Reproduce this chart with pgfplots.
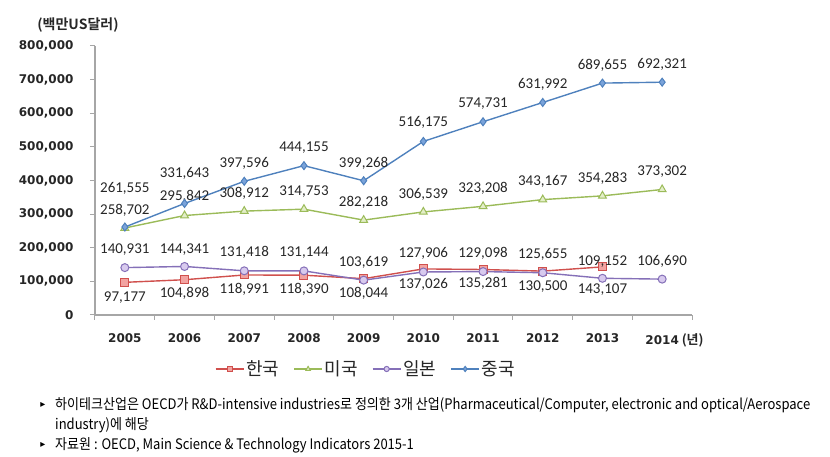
\documentclass[border=0pt]{standalone}
\usepackage{fontspec}
\usepackage{pgfplots}
\usepackage{pgfplotstable}
\usepackage{graphicx}
\pgfplotsset{compat=1.18}
\setmainfont{Carlito}
\newfontfamily\kr{Noto Sans CJK KR}
\newfontfamily\krb{Noto Sans CJK KR Bold}
\newfontfamily\dvs{DejaVu Sans}
\newfontfamily\dvsb{DejaVu Sans Bold}
\definecolor{kline}{HTML}{D0504D}
\definecolor{kfill}{HTML}{F2A3A1}
\definecolor{uline}{HTML}{9BBB59}
\definecolor{ufill}{HTML}{E3EEC8}
\definecolor{jline}{HTML}{8570B8}
\definecolor{jfill}{HTML}{D8CAEE}
\definecolor{cline}{HTML}{4F81BD}
\definecolor{cfill}{HTML}{7AA3DA}
\definecolor{axgray}{HTML}{A6A6A6}

\pgfplotstableread{
x y dy lab
0 97177 -15 97,177
1 104898 -14 104,898
2 118991 -14 118,991
3 118390 -14 118,390
4 108044 -15 108,044
5 137026 -15 137,026
6 135281 -14 135,281
7 130500 -15 130,500
8 143107 -23 143,107
}\korea
\pgfplotstableread{
x y dy lab
0 258702 18 258,702
1 295842 19 295,842
2 308912 18 308,912
3 314753 18 314,753
4 282218 18 282,218
5 306539 18 306,539
6 323208 18 323,208
7 343167 18 343,167
8 354283 18 354,283
9 373302 18 373,302
}\usa
\pgfplotstableread{
x y dy lab
0 140931 18 140,931
1 144341 17 144,341
2 131418 18 131,418
3 131144 18 131,144
4 103619 18 103,619
5 127906 19 127,906
6 129098 18 129,098
7 125655 18 125,655
8 109152 17 109,152
9 106690 18 106,690
}\japan
\pgfplotstableread{
x y dy lab
0 261555 39 261,555
1 331643 30 331,643
2 397596 18 397,596
3 444155 18 444,155
4 399268 17 399,268
5 516175 19 516,175
6 574731 18 574,731
7 631992 18 631,992
8 689655 18 689,655
9 692321 18 692,321
}\china

\newsavebox\fnbox
\newcommand\fnfont{\kr\fontsize{14.5}{14.5}\selectfont}
\newcommand\lgfont{\kr\fontsize{18}{18}\selectfont}

\begin{document}
\sbox\fnbox{\fnfont 하이테크산업은 OECD가 R\&D-intensive industries로 정의한 3개 산업(Pharmaceutical/Computer, electronic and optical/Aerospace}%
\pgfmathsetmacro\fnr{755/\the\wd\fnbox}%
\begin{tikzpicture}[x=1pt,y=1pt]
\useasboundingbox (0,0) rectangle (830,457);
\begin{axis}[
  at={(95pt,142pt)}, anchor=south west,
  scale only axis, width=597pt, height=269pt,
  xmin=-0.5, xmax=9.5, ymin=0, ymax=800000,
  axis x line*=bottom, axis y line*=left,
  axis line style={draw=axgray, line width=1.2pt, -},
  tick align=outside, major tick length=5pt,
  tick style={draw=axgray, line width=1pt},
  xtick={-0.5,0.5,...,9.5},
  xticklabels={2005,2006,2007,2008,2009,2010,2011,2012,2013,{2014\rlap{\krb\fontsize{13}{13}\selectfont\ (년)}},{}},
  xticklabel style={xshift=29.85pt, font=\dvsb\fontsize{12}{12}\selectfont, yshift=-10pt, text=black!85},
  ytick={0,100000,...,800000},
  scaled y ticks=false,
  yticklabel style={font=\dvsb\fontsize{12}{12}\selectfont, xshift=-13pt, text=black!85,
    /pgf/number format/fixed, /pgf/number format/precision=0,
    /pgf/number format/1000 sep={,}, /pgf/number format/assume math mode=true},
  clip=false,
  nodes near coords={\pgfplotspointmeta},
  point meta=explicit symbolic,
  visualization depends on={\thisrow{dy} \as \dy},
  every node near coord/.append style={font=\fontsize{15}{15}\selectfont, anchor=center, yshift=\dy pt, text=black!85},
  legend style={at={(0.453,-0.2007)}, anchor=center, draw=none, fill=none,
    legend columns=4, font=\lgfont, nodes={inner sep=1pt}, text=black!85,
    /tikz/every odd column/.append style={column sep=1pt},
    /tikz/every even column/.append style={column sep=13pt},
    legend cell align=left},
  legend image code/.code={\draw[mark size=2.6pt, mark repeat=2, mark phase=2] plot coordinates {(0pt,0pt) (14pt,0pt) (28pt,0pt)};},
]
\addplot[kline, line width=1.4pt, mark=square*, mark size=4pt, mark options={fill=kfill, draw=kline, line width=1pt}] table[x=x,y=y,meta=lab] {\korea};
\addlegendentry{한국}
\addplot[uline, line width=1.4pt, mark=triangle*, mark size=4.5pt, mark options={fill=ufill, draw=uline, line width=1pt}] table[x=x,y=y,meta=lab] {\usa};
\addlegendentry{미국}
\addplot[jline, line width=1.4pt, mark=*, mark size=4pt, mark options={fill=jfill, draw=jline, line width=1pt}] table[x=x,y=y,meta=lab] {\japan};
\addlegendentry{일본}
\addplot[cline, line width=1.4pt, mark=diamond*, mark size=4pt, mark options={fill=cfill, draw=cline, line width=1pt}] table[x=x,y=y,meta=lab] {\china};
\addlegendentry{중국}
\end{axis}
\node[anchor=center, inner sep=0pt, font=\krb\fontsize{14}{14}\selectfont, text=black!85] at (78,432) {(백만US달러)};
\node[anchor=base west, inner sep=0pt] at (55,47) {\resizebox{755pt}{\height}{\usebox\fnbox}};
\node[anchor=base west, inner sep=0pt] at (55,27) {\scalebox{\fnr}[1]{\fnfont industry)에 해당}};
\node[anchor=base west, inner sep=0pt] at (55,7) {\scalebox{\fnr}[1]{\fnfont 자료원 : OECD, Main Science \& Technology Indicators 2015-1}};
\node[anchor=center, inner sep=0pt, font=\dvs\fontsize{10}{10}\selectfont] at (43,52) {▸};
\node[anchor=center, inner sep=0pt, font=\dvs\fontsize{10}{10}\selectfont] at (43,12) {▸};
\end{tikzpicture}
\end{document}
